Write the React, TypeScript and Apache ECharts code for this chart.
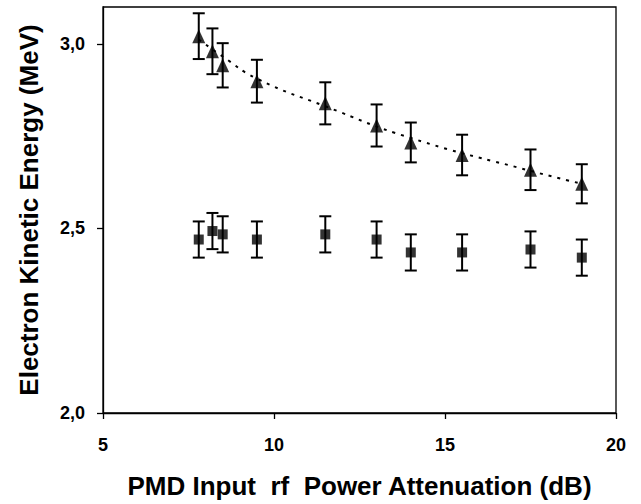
import React, { useEffect, useRef } from "react";
import * as echarts from "echarts";

const attenuation = [7.8, 8.2, 8.5, 9.5, 11.5, 13, 14, 15.5, 17.5, 19];

const triY = [3.021, 2.98, 2.942, 2.899, 2.839, 2.779, 2.733, 2.699, 2.659, 2.621];
const triErr = [0.062, 0.062, 0.06, 0.058, 0.057, 0.057, 0.054, 0.055, 0.055, 0.053];

const sqY = [2.47, 2.493, 2.484, 2.47, 2.484, 2.47, 2.435, 2.435, 2.443, 2.421];
const sqErr = [0.049, 0.049, 0.049, 0.049, 0.049, 0.049, 0.049, 0.049, 0.049, 0.049];

const trendX = [7.8, 8.5, 9.5, 11.5, 14, 17.5, 19];
const trendY = [3.012, 2.966, 2.906, 2.831, 2.745, 2.656, 2.621];

const yTicks = [2, 2.5, 3];
const xTicks = [5, 10, 15, 20];

const FONT = "'Liberation Sans', Arial, Helvetica, sans-serif";

function errorSeries(xs: number[], ys: number[], es: number[]) {
  return {
    type: "custom",
    silent: true,
    z: 3,
    data: xs.map((x, i) => [x, ys[i] - es[i], ys[i] + es[i]]),
    encode: { x: 0, y: [1, 2] },
    renderItem: (params: any, api: any) => {
      const x = api.value(0);
      const lo = api.coord([x, api.value(1)]);
      const hi = api.coord([x, api.value(2)]);
      const hw = 6;
      const style = { stroke: "#000", lineWidth: 2 };
      return {
        type: "group",
        children: [
          { type: "line", shape: { x1: lo[0], y1: lo[1], x2: hi[0], y2: hi[1] }, style },
          { type: "line", shape: { x1: lo[0] - hw, y1: lo[1], x2: lo[0] + hw, y2: lo[1] }, style },
          { type: "line", shape: { x1: hi[0] - hw, y1: hi[1], x2: hi[0] + hw, y2: hi[1] }, style },
        ],
      };
    },
  };
}

export default function App() {
  const ref = useRef<HTMLDivElement>(null);
  useEffect(() => {
    if (!ref.current) return;
    const chart = echarts.init(ref.current, undefined, { renderer: "svg" });
    chart.setOption({
      animation: false,
      backgroundColor: "#fff",
      textStyle: { fontFamily: FONT },
      grid: { left: 103, right: 25, top: 7, bottom: 91, show: true, borderColor: "#000", borderWidth: 1.3 },
      xAxis: {
        type: "value",
        min: 5,
        max: 20,
        interval: 5,
        name: "PMD Input  rf  Power Attenuation (dB)",
        nameLocation: "middle",
        nameGap: 60,
        nameTextStyle: { fontFamily: FONT, fontWeight: "bold", fontSize: 26, color: "#000" },
        axisLine: { onZero: false, lineStyle: { color: "#000", width: 1.3 } },
        axisTick: { inside: false, length: 6, lineStyle: { color: "#000", width: 1.3 }, customValues: xTicks },
        axisLabel: { fontFamily: FONT, fontWeight: "bold", fontSize: 18, color: "#000", margin: 23, customValues: xTicks },
        splitLine: { show: false },
      },
      yAxis: {
        type: "value",
        min: 2,
        max: 3.1,
        interval: 0.5,
        name: "Electron Kinetic Energy (MeV)",
        nameLocation: "middle",
        nameGap: 61,
        nameTextStyle: { fontFamily: FONT, fontWeight: "bold", fontSize: 26, color: "#000" },
        axisLine: { onZero: false, lineStyle: { color: "#000", width: 1.3 } },
        axisTick: { inside: false, length: 6, lineStyle: { color: "#000", width: 1.3 }, customValues: yTicks },
        axisLabel: {
          fontFamily: FONT,
          fontWeight: "bold",
          fontSize: 18,
          color: "#000",
          margin: 18,
          customValues: yTicks,
          formatter: (v: number) => v.toFixed(1).replace(".", ","),
        },
        splitLine: { show: false },
      },
      series: [
        {
          type: "line",
          data: trendX.map((x, i) => [x, trendY[i]]),
          smooth: true,
          symbol: "none",
          silent: true,
          z: 2,
          lineStyle: { color: "#000", width: 2, type: [3, 6] },
        },
        errorSeries(attenuation, triY, triErr),
        errorSeries(attenuation, sqY, sqErr),
        {
          type: "scatter",
          data: attenuation.map((x, i) => [x, triY[i]]),
          symbol: "triangle",
          symbolSize: [13, 14],
          itemStyle: { color: "#000" },
          z: 4,
        },
        {
          type: "scatter",
          data: attenuation.map((x, i) => [x, sqY[i]]),
          symbol: "rect",
          symbolSize: 10,
          itemStyle: { color: "#000" },
          z: 4,
        },
      ],
    });
    return () => chart.dispose();
  }, []);
  return <div ref={ref} style={{ width: 641, height: 504, position: "absolute", left: 0, top: 0 }} />;
}
